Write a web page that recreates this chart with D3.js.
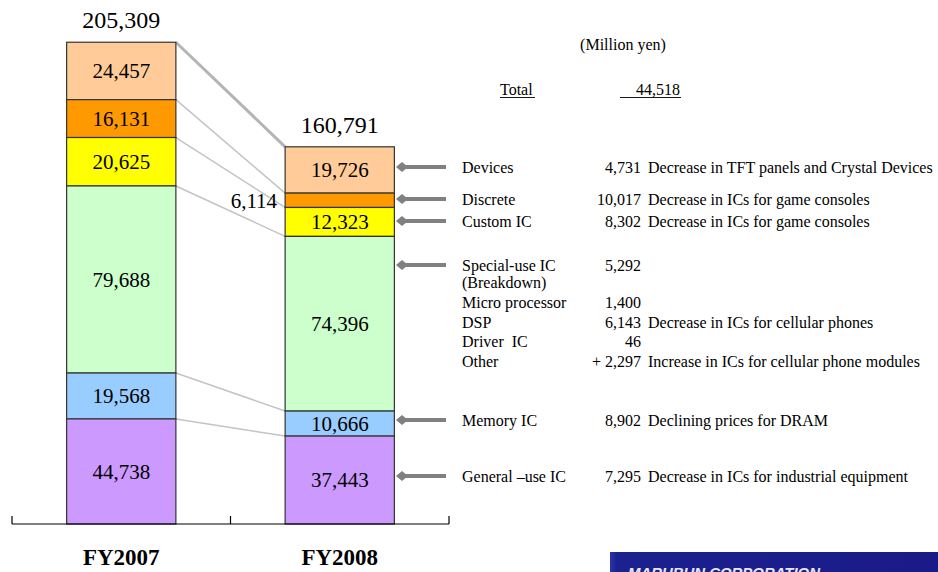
<!DOCTYPE html>
<html>
<head>
<meta charset="utf-8">
<script src="https://cdn.jsdelivr.net/npm/d3@7"></script>
<style>
  html, body { margin: 0; padding: 0; background: #fff; }
  svg { display: block; }
  text { font-family: "Liberation Serif", "Times New Roman", serif; }
</style>
</head>
<body>
<svg id="chart" width="938" height="572"></svg>
<script>
// ---------------- DATA ----------------
const years = ["FY2007", "FY2008"];
// stack order: top to bottom
const segments = ["Devices", "Discrete", "Custom IC", "Special-use IC", "Memory IC", "General –use IC"];
const fy2007 = [24457, 16131, 20625, 79688, 19568, 44738];
const fy2008 = [19726, 6114, 12323, 74396, 10666, 37443];
const totals = [205309, 160791];
const colors = ["#FFCC99", "#FF9900", "#FFFF00", "#CCFFCC", "#99CCFF", "#CC99FF"];
const unitLabel = "(Million yen)";
const totalLabel = "Total";
const totalChange = "44,518";
const noteLabels = ["Devices", "Discrete", "Custom IC", "Special-use IC", "(Breakdown)", "Micro processor", "DSP", "Driver  IC", "Other", "Memory IC", "General –use IC"];
const noteValues = ["4,731", "10,017", "8,302", "5,292", "", "1,400", "6,143", "46", "+ 2,297", "8,902", "7,295"];
const noteTexts = ["Decrease in TFT panels and Crystal Devices", "Decrease in ICs for game consoles", "Decrease in ICs for game consoles", "", "", "", "Decrease in ICs for cellular phones", "", "Increase in ICs for cellular phone modules", "Declining prices for DRAM", "Decrease in ICs for industrial equipment"];
const noteArrow = [true, true, true, true, false, false, false, false, false, true, true];
const logoText = "MARUBUN CORPORATION";

// ---------------- LAYOUT ----------------
const svg = d3.select("#chart");
const baseY = 524;
const x = d3.scaleBand().domain(years).range([12, 449]).paddingInner(0).paddingOuter(0);
const y = d3.scaleLinear().domain([0, d3.max(totals)]).range([baseY, 42]);
const barW = x.bandwidth() * 0.5;

const seriesByYear = [fy2007, fy2008];

// build stacks bottom-up
function stackFor(vals) {
  const out = [];
  let acc = 0;
  for (let i = vals.length - 1; i >= 0; i--) {
    out[i] = { name: segments[i], v: vals[i], y0: acc, y1: acc + vals[i], color: colors[i], idx: i };
    acc += vals[i];
  }
  return out;
}
const stacks = seriesByYear.map(stackFor);

// connector lines between boundaries
const gConn = svg.append("g");
const b0 = [stacks[0][0].y1].concat(stacks[0].map(d => d.y0));
const b1 = [stacks[1][0].y1].concat(stacks[1].map(d => d.y0));
for (let i = 0; i < b0.length - 1; i++) {
  gConn.append("line")
    .attr("x1", x(years[0]) + (x.bandwidth() + barW) / 2)
    .attr("y1", y(b0[i]))
    .attr("x2", x(years[1]) + (x.bandwidth() - barW) / 2)
    .attr("y2", y(b1[i]))
    .attr("stroke", i === 0 ? "#b4b4b4" : "#c4c4c4")
    .attr("stroke-width", i === 0 ? 3 : 1.5);
}

// bars
years.forEach((yr, k) => {
  const g = svg.append("g");
  const x0 = x(yr) + (x.bandwidth() - barW) / 2;
  g.selectAll("rect").data(stacks[k]).enter().append("rect")
    .attr("x", x0)
    .attr("y", d => y(d.y1))
    .attr("width", barW)
    .attr("height", d => y(d.y0) - y(d.y1))
    .attr("fill", d => d.color)
    .attr("stroke", "#333")
    .attr("stroke-width", 1.2);

  g.selectAll("text.seg").data(stacks[k]).enter().append("text")
    .attr("class", "seg")
    .attr("x", d => (y(d.y0) - y(d.y1) < 20) ? x0 - 8 : x0 + barW / 2)
    .attr("y", d => (y(d.y0) + y(d.y1)) / 2)
    .attr("dy", "0.35em")
    .attr("text-anchor", d => (y(d.y0) - y(d.y1) < 20) ? "end" : "middle")
    .attr("font-size", 21)
    .attr("fill", "#000")
    .text(d => d3.format(",")(d.v));

  g.append("text")
    .attr("x", x0 + barW / 2)
    .attr("y", y(totals[k]) - 14)
    .attr("text-anchor", "middle")
    .attr("font-size", 24)
    .text(d3.format(",")(totals[k]));

  g.append("text")
    .attr("x", x(yr) + x.bandwidth() / 2)
    .attr("y", 565)
    .attr("text-anchor", "middle")
    .attr("font-size", 23)
    .attr("font-weight", "bold")
    .text(yr);
});

// axis
const axisG = svg.append("g").attr("transform", `translate(0,${baseY})`);
axisG.append("line").attr("x1", 12).attr("x2", 449).attr("stroke", "#000").attr("stroke-width", 1.2);
const tickXs = years.map(d => x(d)).concat([x.range()[1]]);
axisG.selectAll("line.tick").data(tickXs).enter().append("line")
  .attr("class", "tick")
  .attr("x1", d => d).attr("x2", d => d)
  .attr("y1", -8).attr("y2", 0)
  .attr("stroke", "#000").attr("stroke-width", 1.2);

// unit + total
svg.append("text").attr("x", 623).attr("y", 50).attr("text-anchor", "middle").attr("font-size", 16).text(unitLabel);
svg.append("text").attr("x", 500).attr("y", 95).attr("font-size", 16).text(totalLabel);
svg.append("line").attr("x1", 500).attr("x2", 535).attr("y1", 97.5).attr("y2", 97.5).attr("stroke", "#000").attr("stroke-width", 0.9);
svg.append("text").attr("x", 680).attr("y", 95).attr("text-anchor", "end").attr("font-size", 16).text(totalChange);
svg.append("line").attr("x1", 620).attr("x2", 681).attr("y1", 97.5).attr("y2", 97.5).attr("stroke", "#000").attr("stroke-width", 0.9);

// notes
const rowY = [167, 199, 221, 265, 282, 302, 322, 341, 361, 420, 476];
const notes = noteLabels.map((l, i) => ({ label: l, value: noteValues[i], text: noteTexts[i], arrow: noteArrow[i], y: rowY[i] }));
const gN = svg.append("g");
const rowsSel = gN.selectAll("g.row").data(notes).enter().append("g").attr("class", "row");
rowsSel.append("text").attr("x", 462).attr("y", d => d.y).attr("dy", "0.35em").attr("font-size", 16)
  .style("white-space", "pre").text(d => d.label);
rowsSel.append("text").attr("x", 641).attr("y", d => d.y).attr("dy", "0.35em").attr("font-size", 16)
  .attr("text-anchor", "end").style("white-space", "pre").text(d => d.value);
rowsSel.append("text").attr("x", 648).attr("y", d => d.y).attr("dy", "0.35em").attr("font-size", 16)
  .text(d => d.text);
const arrows = rowsSel.filter(d => d.arrow);
arrows.append("line").attr("x1", 402).attr("x2", 446).attr("y1", d => d.y).attr("y2", d => d.y)
  .attr("stroke", "#808080").attr("stroke-width", 4);
arrows.append("path")
  .attr("d", d => `M396,${d.y} L402,${d.y - 5} L408,${d.y} L402,${d.y + 5} Z`)
  .attr("fill", "#808080");

// logo (clipped at the bottom edge, as in the original)
const defs = svg.append("defs");
const grad = defs.append("linearGradient").attr("id", "lg").attr("x1", "0").attr("x2", "1");
grad.append("stop").attr("offset", "0").attr("stop-color", "#2a35a8");
grad.append("stop").attr("offset", "0.02").attr("stop-color", "#1c2190");
grad.append("stop").attr("offset", "1").attr("stop-color", "#1a1a88");
svg.append("rect").attr("x", 610).attr("y", 552).attr("width", 328).attr("height", 20).attr("fill", "url(#lg)");
svg.append("text").attr("x", 628).attr("y", 578)
  .style("font-family", "'Liberation Sans', Arial, sans-serif")
  .attr("font-size", 15).attr("font-weight", "bold").attr("font-style", "italic")
  .attr("fill", "#e8e8ff")
  .attr("textLength", 192).attr("lengthAdjust", "spacingAndGlyphs")
  .text(logoText);
</script>
</body>
</html>
